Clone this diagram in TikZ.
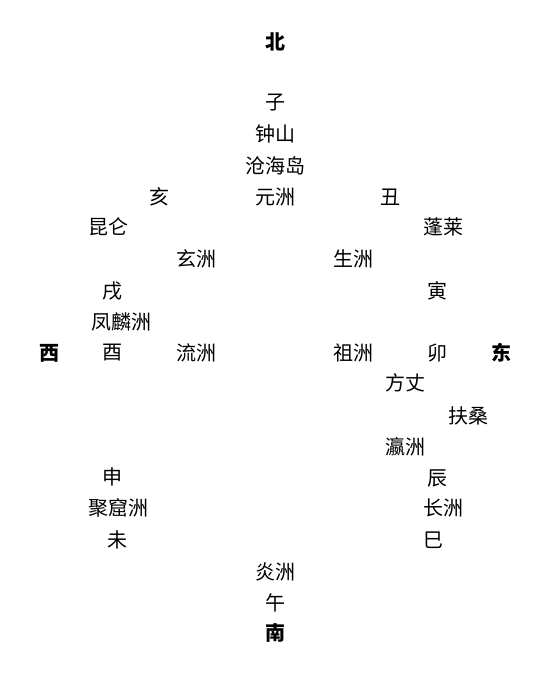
\documentclass[tikz,border=0pt]{standalone}
\usepackage{fontspec}
\newfontfamily\cjk{Noto Sans CJK SC}
\usetikzlibrary{positioning}

\begin{document}
\begin{tikzpicture}[x=1pt,y=-1pt]

	\tikzstyle{place} = [inner sep=0pt, font=\cjk\fontsize{20}{20}\selectfont]
	\tikzstyle{dir}   = [place, font=\cjk\bfseries\fontsize{20}{20}\selectfont]

	\useasboundingbox (0,0) rectangle (552,676);

	% compass directions
	\node [dir] (north) at (275,42)  {北};
	\node [dir] (south) at (275,633) {南};
	\node [dir] (west)  at (49,353)  {西};
	\node [dir] (east)  at (501,353) {东};

	% north axis
	\node [place] (zi)       at (275,103) {子};
	\node [place] (zhongshan) at (275,134) {钟山};
	\node [place] (canghai)  at (275,166) {沧海岛};
	\node [place] (yuanzhou) at (275,197) {元洲};
	\node [place] (hai)      at (159,197) {亥};
	\node [place] (chou)     at (390,197) {丑};

	% upper ring
	\node [place] (kunlun)   at (108,227) {昆仑};
	\node [place] (penglai)  at (443,227) {蓬莱};
	\node [place] (xuanzhou) at (196,259) {玄洲};
	\node [place] (shengzhou) at (353,259) {生洲};
	\node [place] (xu)       at (112,291) {戌};
	\node [place] (yin)      at (437,291) {寅};
	\node [place] (fenglin)  at (121,322) {凤麟洲};

	% west-east row
	\node [place] (you)      at (112,353) {酉};
	\node [place] (liuzhou)  at (196,353) {流洲};
	\node [place] (zuzhou)   at (353,353) {祖洲};
	\node [place] (mao)      at (437,353) {卯};

	% lower ring
	\node [place] (fangzhang) at (405,383) {方丈};
	\node [place] (fusang)   at (468,416) {扶桑};
	\node [place] (yingzhou) at (405,447) {瀛洲};
	\node [place] (shen)     at (112,477) {申};
	\node [place] (chen)     at (437,478) {辰};
	\node [place] (juku)     at (118,508) {聚窟洲};
	\node [place] (changzhou) at (443,508) {长洲};
	\node [place] (wei)      at (117,540) {未};
	\node [place] (si)       at (433,540) {巳};

	% south axis
	\node [place] (yanzhou)  at (275,572) {炎洲};
	\node [place] (wu)       at (275,603) {午};

\end{tikzpicture}
\end{document}
